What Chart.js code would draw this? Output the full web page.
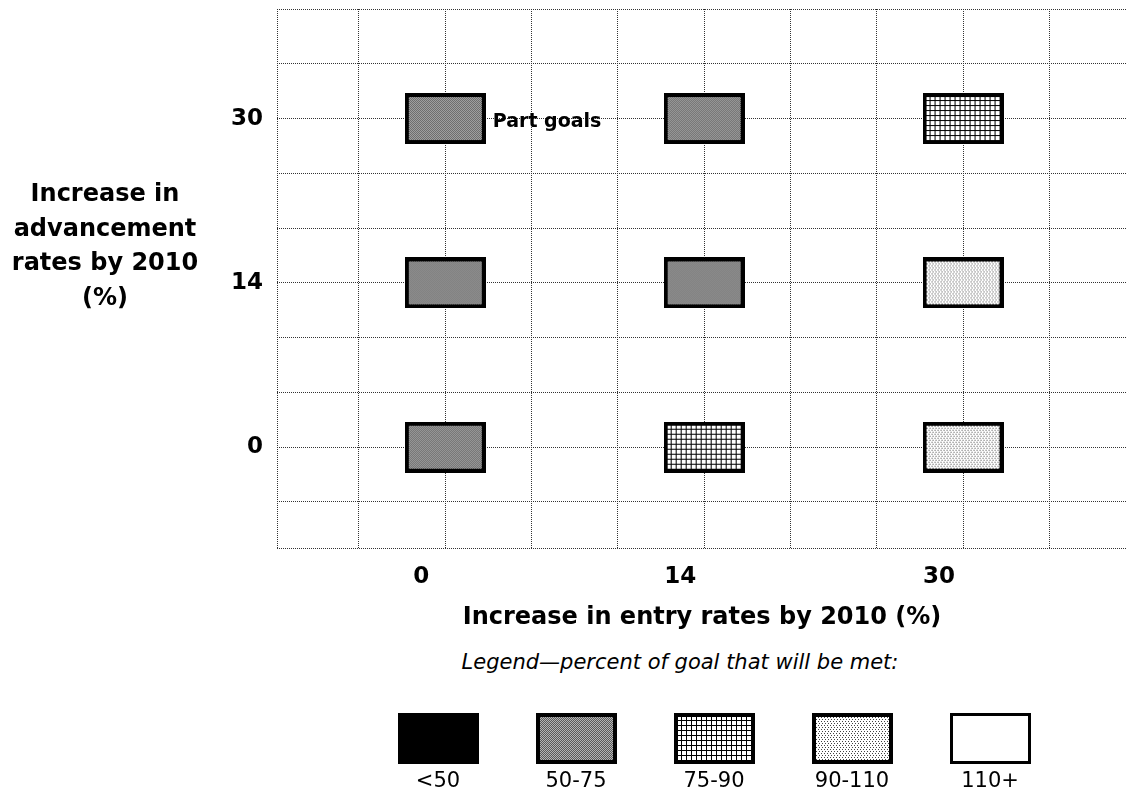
<!DOCTYPE html>
<html>
<head>
<meta charset="utf-8">
<script src="https://cdn.jsdelivr.net/npm/chart.js@4/dist/chart.umd.min.js"></script>
<style>
  html, body { margin: 0; padding: 0; background: #fff; }
  #wrap { position: relative; width: 1127px; height: 799px; overflow: hidden; font-family: 'DejaVu Sans', sans-serif; color: #000; }
  #chartBox { position: absolute; left: 0; top: 0; width: 1127px; height: 640px; }
  #ytitle { position: absolute; left: 5px; top: 176px; width: 200px; text-align: center; font: bold 24px 'DejaVu Sans'; line-height: 34.5px; }
  #legTitle { position: absolute; left: 380px; top: 649px; width: 600px; text-align: center; font: italic 21px 'DejaVu Sans'; line-height: 26px; }
  #legend { position: absolute; left: 369px; top: 713px; display: flex; }
  .legItem { width: 138px; display: flex; flex-direction: column; align-items: center; }
  .legItem canvas { display: block; }
  .legItem span { font: 21px 'DejaVu Sans'; line-height: 25px; margin-top: 4px; }
</style>
</head>
<body>
<div id="wrap">
  <div id="chartBox"><canvas id="c" width="1127" height="640"></canvas></div>
  <div id="ytitle">Increase in<br>advancement<br>rates by 2010<br>(%)</div>
  <div id="legTitle">Legend—percent of goal that will be met:</div>
  <div id="legend"></div>
</div>
<script>
// ---- data ----
const entryRates = ["0", "14", "30"];          // x categories (%)
const advancementRates = ["0", "14", "30"];    // y categories (%)
const goalBands = ["<50", "50-75", "75-90", "90-110", "110+"];
// percent of goal met, by entry rate (0, 14, 30) for each advancement rate
const goalMetAdv0 = ["50-75", "75-90", "90-110"];
const goalMetAdv14 = ["50-75", "50-75", "90-110"];
const goalMetAdv30 = ["50-75", "50-75", "75-90"];
const noteText = "Part goals";
const noteAt = { entry: "0", adv: "30" };
const xTitle = "Increase in entry rates by 2010 (%)";

// ---- styles ----
const BOX_W = 81, BOX_H = 51;
function makeBox(band) {
  const c = document.createElement('canvas');
  c.width = BOX_W; c.height = BOX_H;
  const g = c.getContext('2d');
  g.fillStyle = '#fff'; g.fillRect(0, 0, BOX_W, BOX_H);
  if (band === '<50') {
    g.fillStyle = '#000'; g.fillRect(0, 0, BOX_W, BOX_H);
  } else if (band === '50-75') {
    for (let y = 0; y < BOX_H; y++) for (let x = 0; x < BOX_W; x++) {
      g.fillStyle = ((x + y) % 2 === 0) ? '#5a5a5a' : '#b4b4b4';
      g.fillRect(x, y, 1, 1);
    }
  } else if (band === '75-90') {
    g.fillStyle = '#000';
    for (let x = 2; x < BOX_W; x += 5) g.fillRect(x, 0, 1, BOX_H);
    for (let y = 2; y < BOX_H; y += 5) g.fillRect(0, y, BOX_W, 1);
  } else if (band === '90-110') {
    g.fillStyle = '#444';
    for (let y = 0; y < BOX_H; y += 2) for (let x = 0; x < BOX_W; x++) {
      if ((x + (y % 4 === 0 ? 0 : 2)) % 3 === 0) g.fillRect(x, y, 1, 1);
    }
  }
  g.strokeStyle = '#000';
  g.lineWidth = band === '110+' ? 3 : 4;
  const lw = g.lineWidth;
  g.strokeRect(lw / 2, lw / 2, BOX_W - lw, BOX_H - lw);
  return c;
}
const boxImages = {};
goalBands.forEach(b => { boxImages[b] = makeBox(b); });

// ---- legend (HTML) ----
const legend = document.getElementById('legend');
goalBands.forEach(b => {
  const item = document.createElement('div');
  item.className = 'legItem';
  const cv = makeBox(b);
  const lab = document.createElement('span');
  lab.textContent = b;
  item.appendChild(cv); item.appendChild(lab);
  legend.appendChild(item);
});

// ---- chart ----
const STEP = 3; // grid cells between categories
const rows = [goalMetAdv0, goalMetAdv14, goalMetAdv30];
const points = [];
rows.forEach((row, yi) => row.forEach((band, xi) => {
  points.push({ x: xi * STEP, y: yi * STEP, band: band, entry: entryRates[xi], adv: advancementRates[yi] });
}));

const X_MIN = -1.95, X_MAX = 7.9, Y_MIN = -1.84, Y_MAX = 8;
function catLabel(cats) {
  return function (value) {
    if (Math.abs(value - Math.round(value)) > 1e-6) return '';
    const v = Math.round(value);
    if (v >= 0 && v % STEP === 0 && v / STEP < cats.length) return cats[v / STEP];
    return '';
  };
}

const notePlugin = {
  id: 'notePlugin',
  afterDatasetsDraw(chart) {
    const meta = chart.getDatasetMeta(0);
    const ctx = chart.ctx;
    meta.data.forEach((el, i) => {
      const p = points[i];
      if (p.entry === noteAt.entry && p.adv === noteAt.adv) {
        ctx.save();
        ctx.font = "bold 19px 'DejaVu Sans'";
        ctx.fillStyle = '#000';
        ctx.textAlign = 'left';
        ctx.textBaseline = 'middle';
        ctx.fillText(noteText, el.x + BOX_W / 2 + 7, el.y + 4);
        ctx.restore();
      }
    });
  }
};

const gridCommon = { color: '#333', lineWidth: 1, drawTicks: false };
const borderCommon = { display: false, dash: [1, 1] };
const tickFont = { family: 'DejaVu Sans', size: 23, weight: 'bold' };

new Chart(document.getElementById('c'), {
  type: 'scatter',
  data: {
    datasets: [{
      data: points,
      pointStyle: (ctx) => boxImages[ctx.raw ? ctx.raw.band : '110+'],
      pointRadius: 40,
      pointHoverRadius: 40
    }]
  },
  options: {
    responsive: false,
    animation: false,
    devicePixelRatio: 1,
    events: [],
    layout: { autoPadding: false, padding: { top: 9, left: 0, right: 0, bottom: 0 } },
    plugins: { legend: { display: false }, tooltip: { enabled: false } },
    scales: {
      x: {
        type: 'linear', min: X_MIN, max: X_MAX,
        grid: gridCommon, border: borderCommon,
        afterBuildTicks(s) {
          const t = [X_MIN];
          for (let v = -1; v <= 7; v++) t.push(v);
          s.ticks = t.map(v => ({ value: v }));
        },
        ticks: {
          autoSkip: false, maxRotation: 0, padding: 15, labelOffset: -24,
          color: '#000', font: tickFont, callback: catLabel(entryRates)
        },
        title: {
          display: true, text: xTitle, color: '#000',
          font: { family: 'DejaVu Sans', size: 24, weight: 'bold' },
          padding: { top: 0, bottom: 8 }
        },
        afterFit(s) { s.height = 92; s.paddingLeft = 0; s.paddingRight = 0; }
      },
      y: {
        type: 'linear', min: Y_MIN, max: Y_MAX,
        grid: gridCommon, border: borderCommon,
        afterBuildTicks(s) {
          const t = [Y_MIN];
          for (let v = -1; v <= 8; v++) t.push(v);
          s.ticks = t.map(v => ({ value: v }));
        },
        ticks: {
          autoSkip: false, padding: 14,
          color: '#000', font: tickFont, callback: catLabel(advancementRates)
        },
        afterFit(s) { s.width = 277; s.paddingTop = 0; s.paddingBottom = 0; }
      }
    }
  },
  plugins: [notePlugin]
});
</script>
</body>
</html>
